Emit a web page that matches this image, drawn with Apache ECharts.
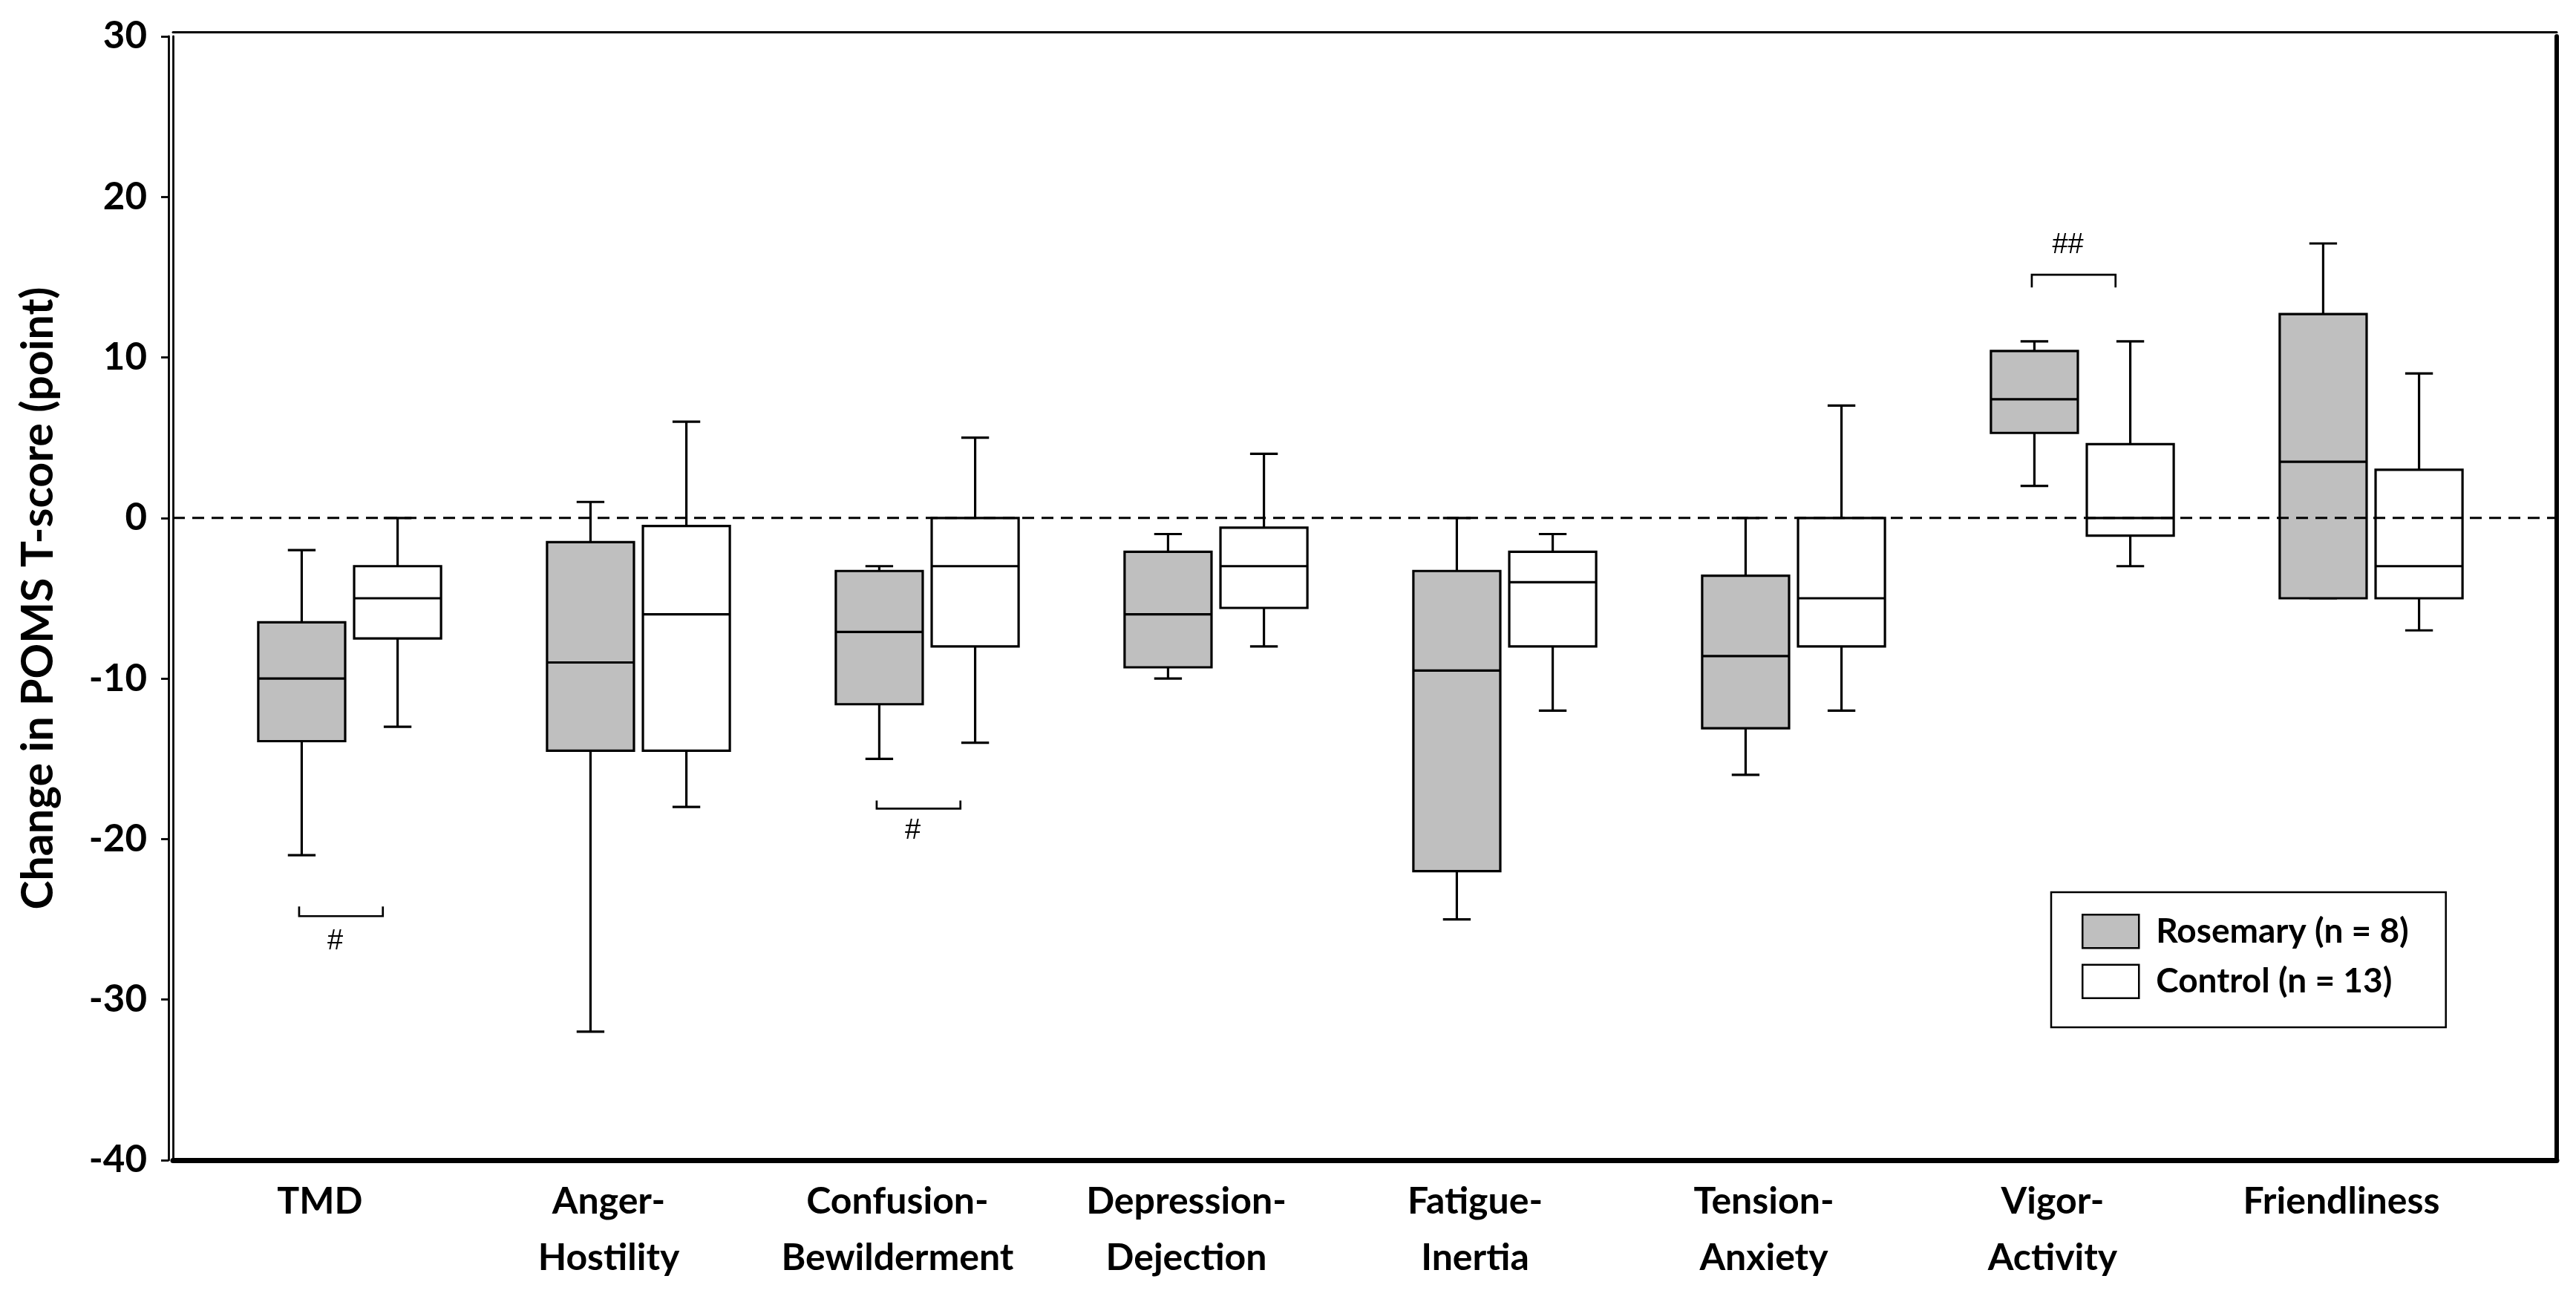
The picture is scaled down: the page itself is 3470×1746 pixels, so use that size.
<!DOCTYPE html>
<html><head><meta charset="utf-8">
<script src="https://cdn.jsdelivr.net/npm/echarts@6/dist/echarts.min.js"></script>
<style>html,body{margin:0;padding:0;background:#fff}#c{width:3470px;height:1746px}</style>
</head><body><div id="c"></div>
<script>
// ---- data ----
const categories = ['TMD', 'Anger-\nHostility', 'Confusion-\nBewilderment', 'Depression-\nDejection',
  'Fatigue-\nInertia', 'Tension-\nAnxiety', 'Vigor-\nActivity', 'Friendliness'];
const rosemaryName = 'Rosemary (n = 8)';
const controlName = 'Control (n = 13)';
// [min, Q1, median, Q3, max]
const rosemary = [
  [-21, -13.9, -10, -6.5, -2],
  [-32, -14.5, -9, -1.5, 1],
  [-15, -11.6, -7.1, -3.3, -3],
  [-10, -9.3, -6, -2.1, -1],
  [-25, -22, -9.5, -3.3, 0],
  [-16, -13.1, -8.6, -3.6, 0],
  [2, 5.3, 7.4, 10.4, 11],
  [-5, -5, 3.5, 12.7, 17.1]
];
const control = [
  [-13, -7.5, -5, -3, 0],
  [-18, -14.5, -6, -0.5, 6],
  [-14, -8, -3, 0, 5],
  [-8, -5.6, -3, -0.6, 4],
  [-12, -8, -4, -2.1, -1],
  [-12, -8, -5, 0, 7],
  [-3, -1.1, 0, 4.6, 11],
  [-7, -5, -3, 3, 9]
];
const yMin = -40, yMax = 30, yStep = 10;
// significance brackets
const sigCategory = [0, 2, 6];
const sigLineY = [-24.8, -18.1, 15.15];
const sigTickY = [-24.2, -17.6, 14.36];
const sigLabelY = [-26.4, -19.5, 17.0];
const sigLabels = ['#', '#', '##'];
const zeroLine = [[0, 0], [1, 0]];

// ---- chart ----
const FONT = 'Lato';
const chart = echarts.init(document.getElementById('c'));

function boxRender(side) {
  return function (params, api) {
    const cat = api.value(0);
    const band = api.size([1, 0])[0];
    const cx = api.coord([cat, 0])[0] + side * 0.166 * band;
    const hw = 0.1505 * band;
    const cw = 0.048 * band;
    const y = i => api.coord([cat, api.value(i)])[1];
    const lo = y(1), q1 = y(2), md = y(3), q3 = y(4), hi = y(5);
    const ls = { stroke: '#000', lineWidth: 3.2 };
    return {
      type: 'group',
      children: [
        { type: 'line', shape: { x1: cx, y1: q3, x2: cx, y2: hi }, style: ls },
        { type: 'line', shape: { x1: cx - cw, y1: hi, x2: cx + cw, y2: hi }, style: ls },
        { type: 'line', shape: { x1: cx, y1: q1, x2: cx, y2: lo }, style: ls },
        { type: 'line', shape: { x1: cx - cw, y1: lo, x2: cx + cw, y2: lo }, style: ls },
        { type: 'rect', shape: { x: cx - hw, y: q3, width: 2 * hw, height: q1 - q3 },
          style: { fill: api.visual('color'), stroke: '#000', lineWidth: 3.2 } },
        { type: 'line', shape: { x1: cx - hw, y1: md, x2: cx + hw, y2: md }, style: ls }
      ]
    };
  };
}

function sigRender(params, api) {
  const cat = api.value(0);
  const band = api.size([1, 0])[0];
  const gc = api.coord([cat, 0])[0];
  const x1 = gc - 0.175 * band, x2 = gc + 0.115 * band;
  const yl = api.coord([cat, api.value(1)])[1];
  const yt = api.coord([cat, api.value(2)])[1];
  const ytx = api.coord([cat, api.value(3)])[1];
  return {
    type: 'group',
    children: [
      { type: 'polyline', shape: { points: [[x1, yt], [x1, yl], [x2, yl], [x2, yt]] },
        style: { stroke: '#000', lineWidth: 2.7, fill: null } },
      { type: 'text', x: gc - 0.05 * band, y: ytx,
        style: { text: sigLabels[params.dataIndex], fill: '#000', fontFamily: 'Liberation Sans',
          fontSize: 38, fontWeight: 'normal', align: 'center', verticalAlign: 'middle' } }
    ]
  };
}

const frameLine = w => ({ show: true, onZero: false, lineStyle: { color: '#000', width: w } });
const hidden = { axisTick: { show: false }, axisLabel: { show: false }, splitLine: { show: false } };

const option = {
  animation: false,
  backgroundColor: '#fff',
  grid: [
    { left: 233, right: 26, top: 49, bottom: 183, show: false, outerBoundsMode: 'none', containLabel: false },
    { left: 276.5, right: 81.5, top: 49, bottom: 183, outerBoundsMode: 'none', containLabel: false }
  ],
  legend: {
    orient: 'vertical', left: 2763, top: 1202,
    itemWidth: 76, itemHeight: 45, itemGap: 20,
    padding: [29, 50, 38, 41],
    borderColor: '#000', borderWidth: 2.5,
    selectedMode: false,
    textStyle: { fontFamily: FONT, fontWeight: 'bold', fontSize: 46, color: '#000', padding: [0, 0, 0, 18] },
    data: [
      { name: rosemaryName, icon: 'rect', itemStyle: { color: '#bfbfbf', borderColor: '#000', borderWidth: 2.5 } },
      { name: controlName, icon: 'rect', itemStyle: { color: '#fff', borderColor: '#000', borderWidth: 2.5 } }
    ]
  },
  xAxis: [
    Object.assign({ gridIndex: 0, type: 'value', min: 0, max: 1, position: 'bottom', axisLine: frameLine(7) }, hidden),
    Object.assign({ gridIndex: 0, type: 'value', min: 0, max: 1, position: 'top', offset: 6, axisLine: frameLine(3) }, hidden),
    { gridIndex: 1, type: 'category', data: categories,
      axisLine: { show: false }, axisTick: { show: false }, splitLine: { show: false },
      axisLabel: { interval: 0, color: '#000', fontFamily: FONT, fontWeight: 'bold', fontSize: 50,
        lineHeight: 76, margin: 18, padding: [0, 80, 0, 0] } }
  ],
  yAxis: [
    { gridIndex: 0, type: 'value', min: yMin, max: yMax, interval: yStep, offset: 6, position: 'left',
      axisLine: frameLine(2.8),
      axisTick: { show: true, length: 10, lineStyle: { color: '#000', width: 2.8 } },
      axisLabel: { color: '#000', fontFamily: FONT, fontWeight: 'bold', fontSize: 51, margin: 29 },
      splitLine: { show: false },
      name: 'Change in POMS T-score (point)', nameLocation: 'middle', nameGap: 146, nameRotate: 90,
      nameTextStyle: { color: '#000', fontFamily: FONT, fontWeight: 'bold', fontSize: 59 } },
    Object.assign({ gridIndex: 0, type: 'value', min: yMin, max: yMax, interval: yStep, position: 'left',
      offset: 0, axisLine: frameLine(2.8) }, hidden),
    Object.assign({ gridIndex: 0, type: 'value', min: yMin, max: yMax, interval: yStep, position: 'right',
      axisLine: frameLine(6) }, hidden),
    { gridIndex: 1, type: 'value', min: yMin, max: yMax, interval: yStep, show: false }
  ],
  series: [
    { type: 'custom', name: rosemaryName, xAxisIndex: 2, yAxisIndex: 3, z: 2,
      itemStyle: { color: '#bfbfbf' }, renderItem: boxRender(-1),
      encode: { x: 0, y: [1, 2, 3, 4, 5] },
      data: rosemary.map((d, i) => [i].concat(d)) },
    { type: 'custom', name: controlName, xAxisIndex: 2, yAxisIndex: 3, z: 2,
      itemStyle: { color: '#ffffff' }, renderItem: boxRender(1),
      encode: { x: 0, y: [1, 2, 3, 4, 5] },
      data: control.map((d, i) => [i].concat(d)) },
    { type: 'custom', name: 'significance', xAxisIndex: 2, yAxisIndex: 3, z: 3,
      renderItem: sigRender, encode: { x: 0, y: [1, 2, 3] },
      data: sigCategory.map((c, i) => [c, sigLineY[i], sigTickY[i], sigLabelY[i]]) },
    { type: 'line', name: 'zero', xAxisIndex: 0, yAxisIndex: 0, z: 5, silent: true,
      symbol: 'none', data: zeroLine,
      lineStyle: { color: '#000', width: 3, type: [16, 10] } }
  ]
};
chart.setOption(option);
</script>
</body></html>
